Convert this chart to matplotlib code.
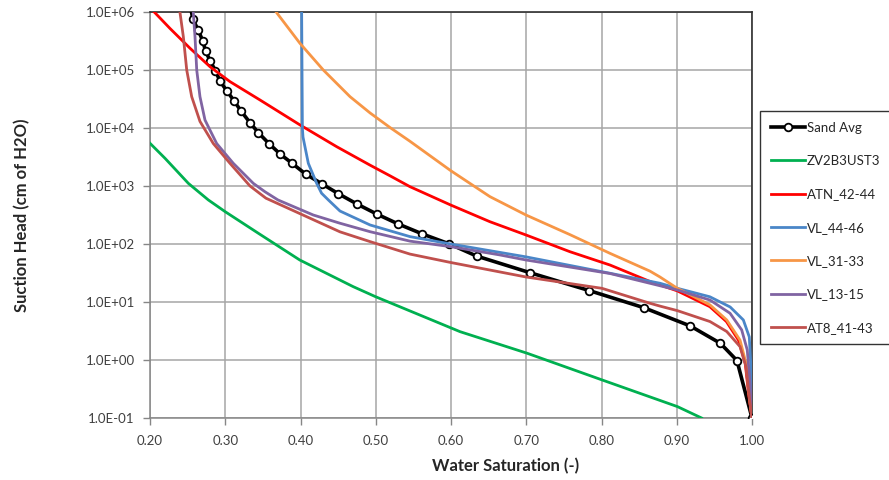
import numpy as np
import matplotlib
matplotlib.use("Agg")
import matplotlib.pyplot as plt
from matplotlib.ticker import FixedLocator, FuncFormatter, NullLocator

plt.rcParams['font.family'] = ['Lato', 'DejaVu Sans']

# ---- data (water saturation, suction head in cm) ----
sand_avg_s = [0.2545, 0.257, 0.264, 0.270, 0.274, 0.280, 0.287, 0.293, 0.302, 0.312, 0.321,
              0.333, 0.344, 0.358, 0.373, 0.389, 0.407, 0.428, 0.450, 0.475, 0.501,
              0.530, 0.562, 0.598, 0.634, 0.705, 0.784, 0.856, 0.918, 0.958, 0.980, 1.000]
sand_avg_h = [1.1e6, 7.5e5, 4.9e5, 3.2e5, 2.1e5, 1.43e5, 9.7e4, 6.4e4, 4.4e4, 2.9e4, 1.96e4,
              1.23e4, 8.3e3, 5.4e3, 3.55e3, 2.45e3, 1.6e3, 1.1e3, 740, 490, 330,
              221, 149, 100, 62, 32, 15.7, 8.0, 3.86, 1.94, 0.98, 0.1]

zv_s = [0.200, 0.220, 0.251, 0.2775, 0.300, 0.344, 0.399, 0.470, 0.500, 0.612, 0.701,
        0.801, 0.901, 0.933]
zv_h = [5450, 3000, 1110, 575, 360, 153, 53, 18.4, 12.3, 3.08, 1.31, 0.452, 0.157, 0.1]

atn_s = [0.200, 0.2066, 0.2266, 0.2532, 0.2797, 0.3063, 0.3462, 0.3993, 0.4481, 0.4924,
         0.5189, 0.5455, 0.5996, 0.6518, 0.6997, 0.7581, 0.8113, 0.865, 0.901, 0.944,
         0.966, 0.982, 0.991, 0.996, 1.000]
atn_h = [1.17e6, 9.7e5, 5.2e5, 2.37e5, 1.14e5, 6.3e4, 3.04e4, 1.13e4, 4.76e3, 2.29e3,
         1.5e3, 973, 470, 242, 143, 73.6, 43.4, 22.4, 15.5, 8.3,
         4.6, 2.2, 0.88, 0.23, 0.1]

vl4446_s = [0.4015, 0.402, 0.4025, 0.4033, 0.4104, 0.4215, 0.428, 0.437, 0.4525, 0.4924,
            0.5455, 0.5996, 0.6997, 0.8113, 0.878, 0.901, 0.944, 0.971, 0.9885, 0.9964,
            0.9983, 1.000]
vl4446_h = [1.1e6, 1e5, 1e4, 7.0e3, 2.46e3, 1.11e3, 750, 575, 370, 213,
            134, 100, 60, 31.3, 21, 17.2, 12.3, 8.2, 4.9, 2.5, 0.88, 0.1]

vl3133_s = [0.366, 0.3684, 0.3993, 0.4303, 0.4658, 0.4924, 0.5189, 0.5455, 0.5996, 0.6518,
            0.6997, 0.7581, 0.8113, 0.8645, 0.8777, 0.9008, 0.9442, 0.9664, 0.9841, 0.992,
            0.9964, 1.000]
vl3133_h = [1.07e6, 9.7e5, 2.88e5, 1.0e5, 3.47e4, 1.82e4, 1.02e4, 5.9e3, 1.84e3, 655,
            316, 145, 69, 34, 27, 17.2, 8.9, 4.9, 2.2, 0.88, 0.23, 0.1]

vl1315_s = [0.2572, 0.2598, 0.2621, 0.2664, 0.2731, 0.2886, 0.3107, 0.3373, 0.3529, 0.370,
            0.417, 0.4525, 0.4924, 0.5455, 0.5996, 0.6643, 0.6997, 0.8113, 0.8645, 0.9008,
            0.9442, 0.9708, 0.9863, 0.9937, 0.9973, 1.000]
vl1315_h = [1.12e6, 3.75e5, 1.0e5, 3.47e4, 1.37e4, 5.4e3, 2.46e3, 1.11e3, 794, 575,
            316, 228, 163, 112, 90, 65, 53, 31, 21, 16.1,
            10.8, 6.4, 3.3, 1.49, 0.40, 0.1]

at8_s = [0.2395, 0.2399, 0.2443, 0.2488, 0.2554, 0.2664, 0.2841, 0.3063, 0.3329, 0.354,
         0.4033, 0.4525, 0.4924, 0.5455, 0.5996, 0.6997, 0.8007, 0.8645, 0.8777, 0.9008,
         0.9442, 0.9664, 0.9841, 0.992, 0.9964, 1.000]
at8_h = [1.12e6, 9.7e5, 3.75e5, 1.0e5, 3.47e4, 1.3e4, 5.4e3, 2.46e3, 1.0e3, 617,
         316, 162, 110, 67, 48, 27, 17.2, 9.5, 8.5, 7.1,
         4.6, 3.1, 1.7, 0.77, 0.23, 0.1]

series_names = ['Sand Avg', 'ZV2B3UST3', 'ATN_42-44', 'VL_44-46', 'VL_31-33', 'VL_13-15', 'AT8_41-43']
series_colors = ['black', '#00B050', '#FF0000', '#4A86C8', '#F79646', '#8064A2', '#C0504D']

x_ticks = [0.20, 0.30, 0.40, 0.50, 0.60, 0.70, 0.80, 0.90, 1.00]
y_ticks = [1e-1, 1e0, 1e1, 1e2, 1e3, 1e4, 1e5, 1e6]

fig = plt.figure(figsize=(8.89, 4.80), dpi=100)
ax = fig.add_axes([150 / 889, 1 - 418 / 480, 602 / 889, 406 / 480])

# Sand Avg with open markers (first point only carries the line to the top edge)
ax.plot(sand_avg_s, sand_avg_h, color='black', lw=2.6, marker='o', ms=5.5,
        mfc='white', mec='black', mew=1.3, markevery=list(range(1, len(sand_avg_s))),
        label=series_names[0], zorder=3)

others = [(zv_s, zv_h), (atn_s, atn_h), (vl4446_s, vl4446_h), (vl3133_s, vl3133_h),
          (vl1315_s, vl1315_h), (at8_s, at8_h)]
for (s, h), name, col in zip(others, series_names[1:], series_colors[1:]):
    ax.plot(s, h, color=col, lw=2.0, label=name, zorder=4)

ax.set_yscale('log')
ax.set_xlim(0.2, 1.0)
ax.set_ylim(0.1, 1e6)
ax.xaxis.set_major_locator(FixedLocator(x_ticks))
ax.yaxis.set_major_locator(FixedLocator(y_ticks))
ax.yaxis.set_minor_locator(NullLocator())
ax.xaxis.set_major_formatter(FuncFormatter(lambda v, p: f"{v:.2f}"))
ax.yaxis.set_major_formatter(FuncFormatter(lambda v, p: f"{v:.1E}"))

ax.grid(True, which='major', color='#A6A6A6', lw=1.1)
ax.set_axisbelow(True)
ax.tick_params(axis='both', direction='out', length=5, width=1, color='#868686',
               labelsize=9.5, labelcolor='#404040')
ax.tick_params(axis='x', pad=7)
ax.tick_params(axis='y', pad=6)
for side in ['left', 'bottom']:
    ax.spines[side].set_color('#868686')
    ax.spines[side].set_linewidth(1.1)
for side in ['top', 'right']:
    ax.spines[side].set_color('#303030')
    ax.spines[side].set_linewidth(1.2)

fig.text(22 / 889, 1 - 215 / 480, 'Suction Head (cm of H2O)', rotation=90,
         ha='center', va='center', fontsize=12, fontweight='bold', color='#262626')
fig.text(506 / 889, 1 - 466 / 480, 'Water Saturation (-)', ha='center', va='center',
         fontsize=12, fontweight='bold', color='#262626')

leg = ax.legend(loc='upper left', bbox_to_anchor=(760 / 889, 1 - 111 / 480),
                bbox_transform=fig.transFigure, fancybox=False, frameon=True,
                edgecolor='black', fontsize=9.5, handlelength=2.6, handletextpad=0.15,
                labelspacing=1.62, borderpad=0.8, borderaxespad=0)
leg.get_frame().set_linewidth(1.0)
for t in leg.get_texts():
    t.set_color('#262626')

fig.savefig('out.png', dpi=100)
